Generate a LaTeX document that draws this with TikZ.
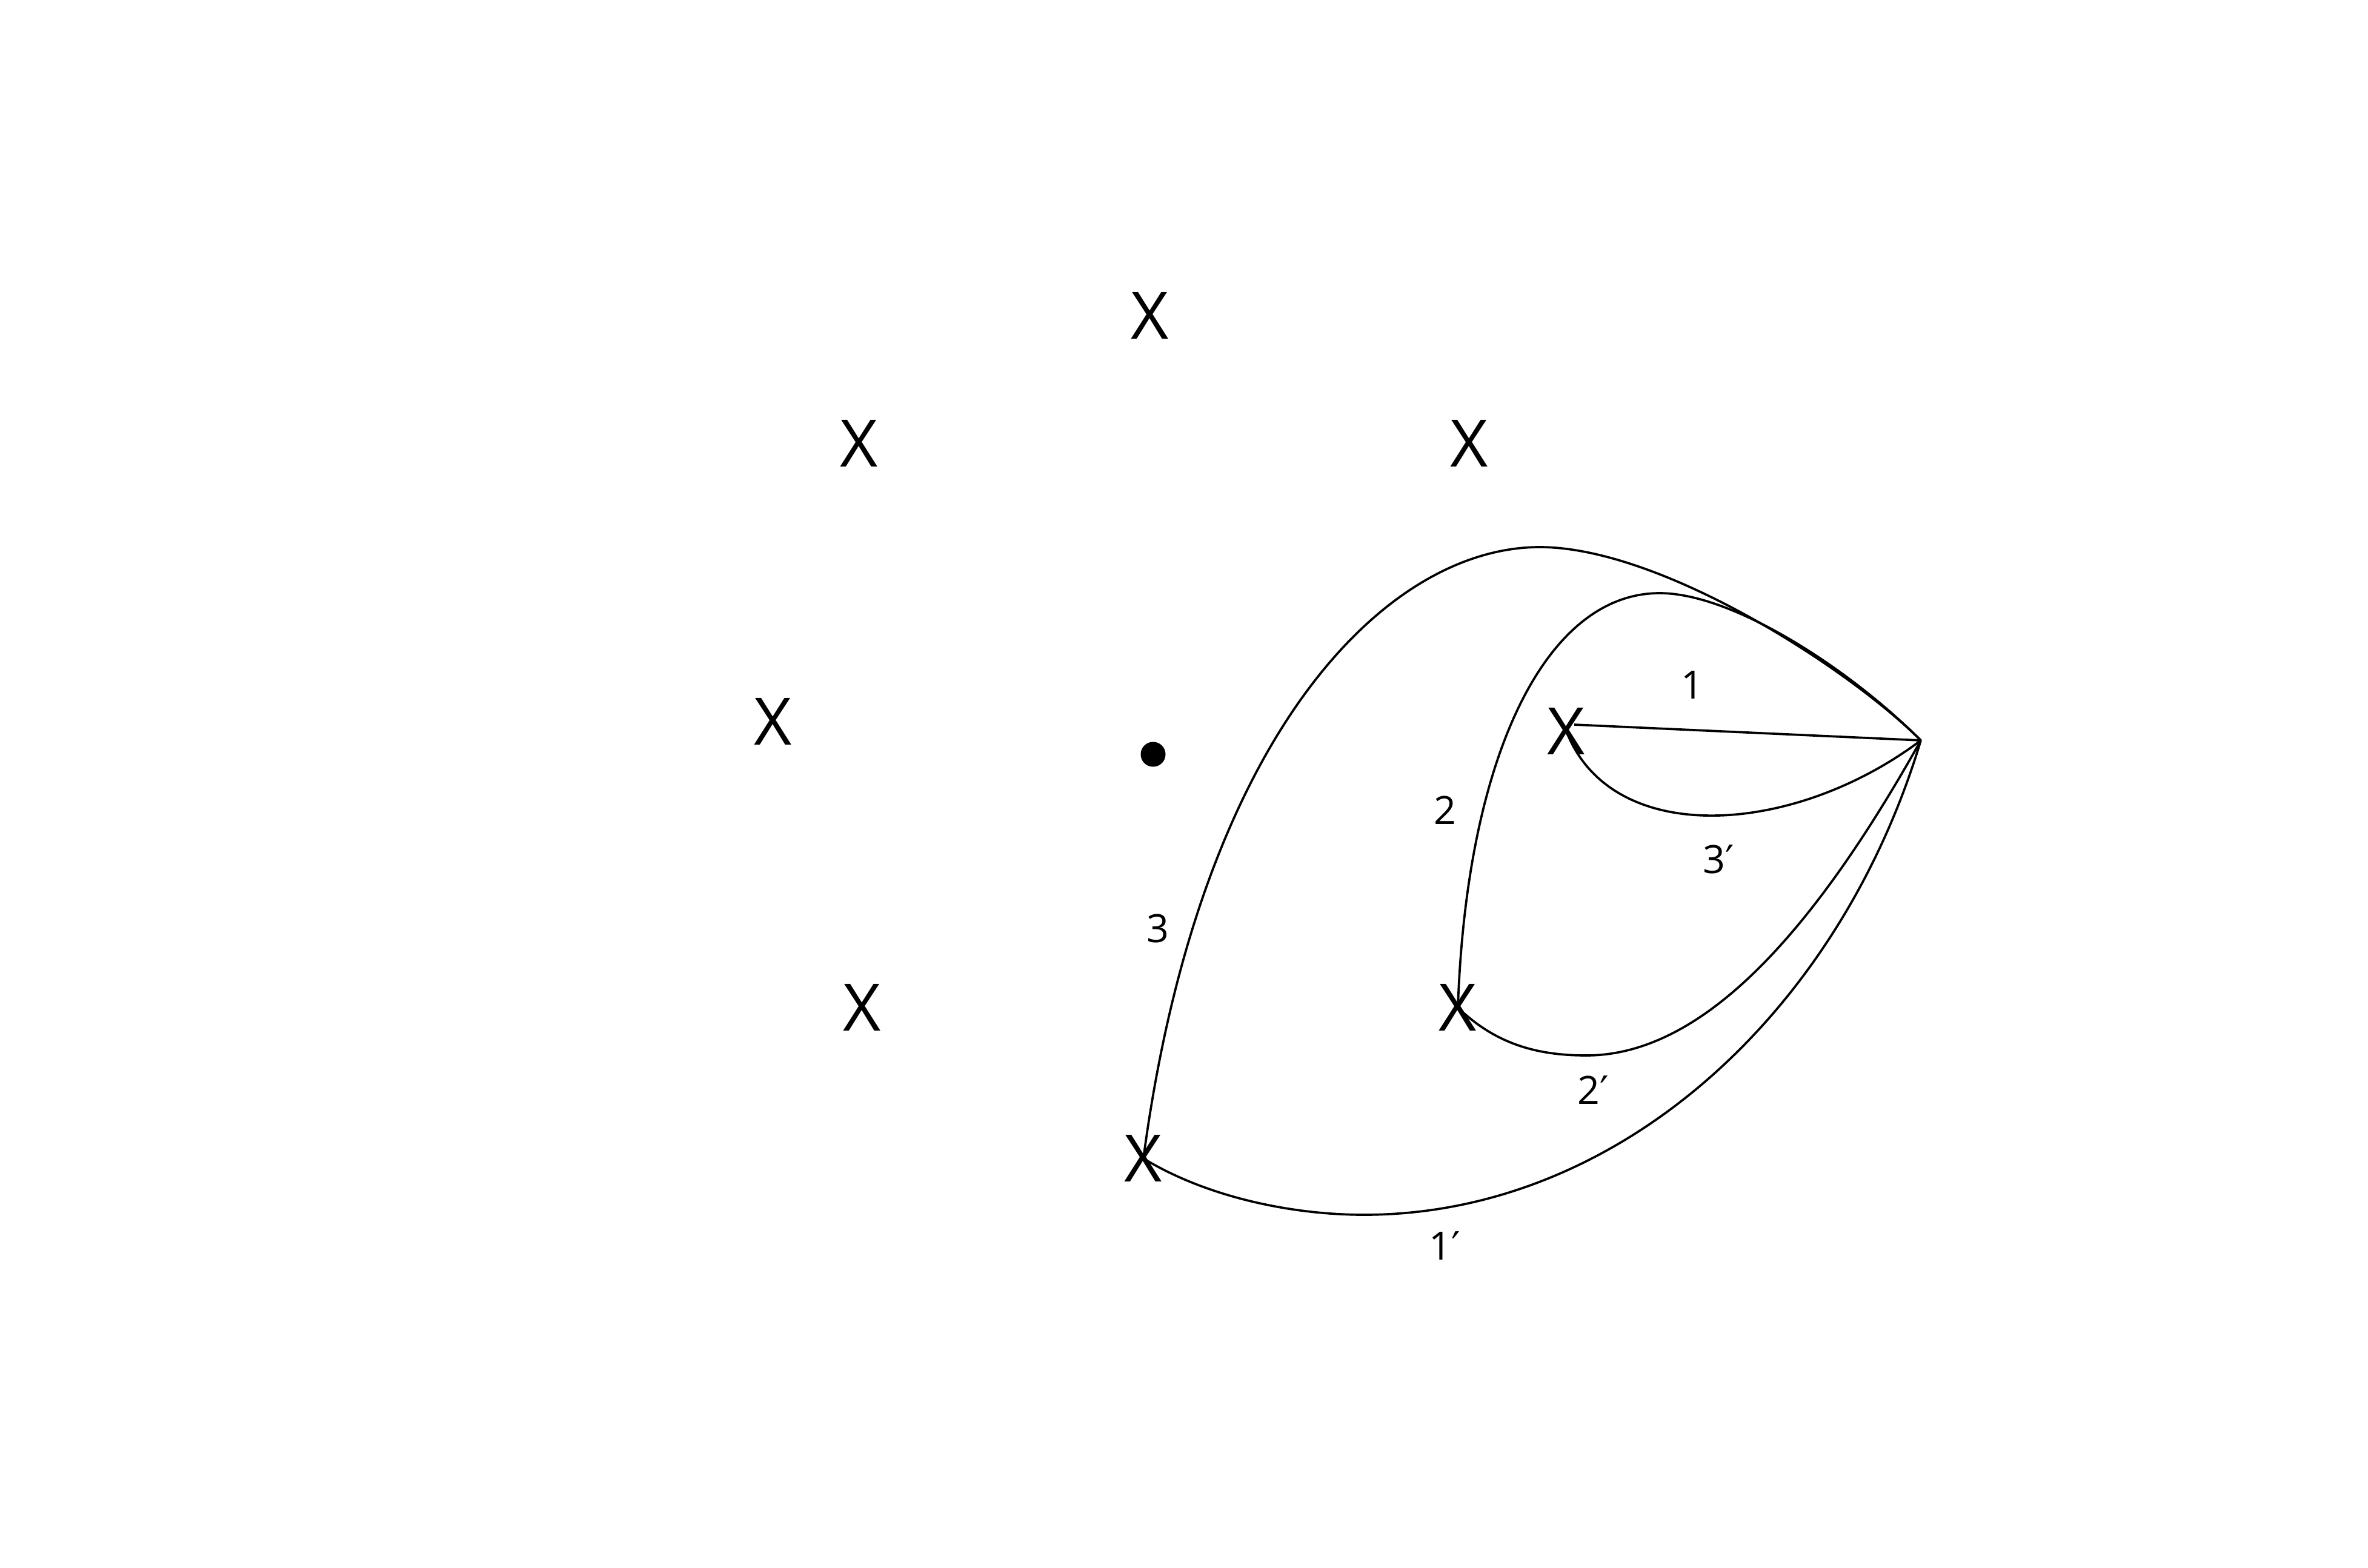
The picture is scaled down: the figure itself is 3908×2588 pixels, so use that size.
\documentclass[tikz,border=0pt]{standalone}
\usepackage{fontspec}
\setmainfont{Open Sans}
\newfontfamily\primefont{DejaVu Sans}
\newcommand{\pr}{{\primefont\char"2032}}
\begin{document}
\begin{tikzpicture}[x=0.01cm,y=-0.01cm,
  line width=1.05pt,
  cross/.style={font=\fontsize{30.7}{32}\selectfont, inner sep=0pt},
  lab/.style={font=\fontsize{18.3}{20}\selectfont, inner sep=0pt},
  spot/.style={circle, fill=black, inner sep=0pt, minimum size=0.41cm}]
\useasboundingbox (0,0) rectangle (3908,2588);
% crosses
\node[cross] (T)  at (1898,521)  {X};
\node[cross] (UL) at (1418,732)  {X};
\node[cross] (UR) at (2425,732)  {X};
\node[cross] (L)  at (1276,1191) {X};
\node[cross] (LL) at (1423,1663) {X};
\node[cross] (A)  at (2585,1207) {X};
\node[cross] (B)  at (2406,1663) {X};
\node[cross] (C)  at (1887,1912) {X};
\node[spot]  (D)  at (1903,1245) {};
\coordinate (P)  at (3170,1222);
\coordinate (T3) at (2541,903);
\coordinate (T2) at (2739,979);
\coordinate (M2) at (2618,1742);
\coordinate (M1) at (2251,2005);
% curve 1
\draw ([shift={(13,-11)}]A.center) -- (P);
% curve 3'
\draw (A.center) .. controls (2660,1400) and (2960,1380) .. (P);
% curve 2
\draw (B.center) .. controls (2420,1250) and (2550,979) .. (T2)
      .. controls (2859,979) and (3050,1102) .. (P);
% curve 2'
\draw (B.center) .. controls (2470,1725) and (2540,1742) .. (M2)
      .. controls (2818,1742) and (3002,1522) .. (P);
% curve 3
\draw (C.center) .. controls (1981,1205) and (2291,903) .. (T3)
      .. controls (2741,903) and (3050,1102) .. (P);
% curve 1'
\draw (C.center) .. controls (1990,1975) and (2130,2005) .. (M1)
      .. controls (2671,2005) and (3035,1672) .. (P);
% labels
\node[lab] (l1)  at (2793,1131) {1};
\node[lab] (l3p) at (2836,1418) {3\pr};
\node[lab] (l2)  at (2385,1337) {2};
\node[lab] (l3)  at (1911,1533) {3};
\node[lab] (l2p) at (2629,1799) {2\pr};
\node[lab] (l1p) at (2384,2056) {1\pr};
\end{tikzpicture}
\end{document}
